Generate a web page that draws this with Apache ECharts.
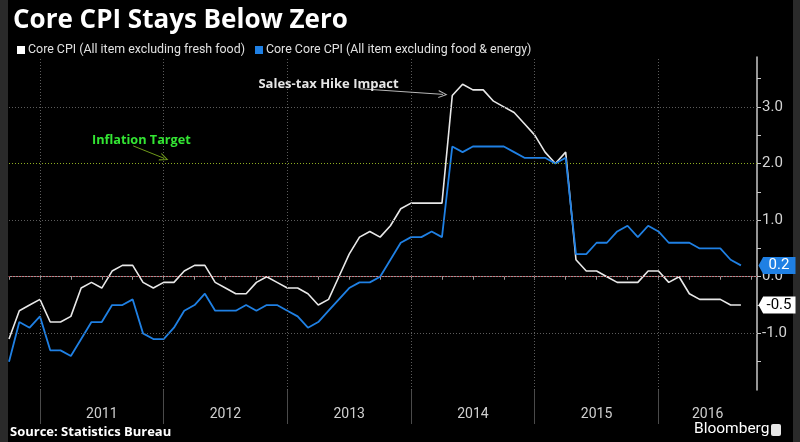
<!DOCTYPE html>
<html><head><meta charset="utf-8">
<script src="https://cdn.jsdelivr.net/npm/echarts@6/dist/echarts.min.js"></script>
<style>html,body{margin:0;padding:0;background:#000}#c{width:800px;height:442px}</style>
</head><body><div id="c"></div>
<script>
// ---------------- data ----------------
const seriesNames = ['Core CPI (All item excluding fresh food)', 'Core Core CPI (All item excluding food & energy)'];
const firstMonth = '2010-09';   // monthly YoY %, Sep 2010 .. Aug 2016
const coreCPI = [
  -1.1, -0.6, -0.5, -0.4,                                       // 2010 Sep-Dec
  -0.8, -0.8, -0.7, -0.2, -0.1, -0.2, 0.1, 0.2, 0.2, -0.1, -0.2, -0.1,   // 2011
  -0.1, 0.1, 0.2, 0.2, -0.1, -0.2, -0.3, -0.3, -0.1, 0.0, -0.1, -0.2,    // 2012
  -0.2, -0.3, -0.5, -0.4, 0.0, 0.4, 0.7, 0.8, 0.7, 0.9, 1.2, 1.3,        // 2013
  1.3, 1.3, 1.3, 3.2, 3.4, 3.3, 3.3, 3.1, 3.0, 2.9, 2.7, 2.5,            // 2014
  2.2, 2.0, 2.2, 0.3, 0.1, 0.1, 0.0, -0.1, -0.1, -0.1, 0.1, 0.1,         // 2015
  -0.1, 0.0, -0.3, -0.4, -0.4, -0.4, -0.5, -0.5                          // 2016 Jan-Aug
];
const coreCoreCPI = [
  -1.5, -0.8, -0.9, -0.7,
  -1.3, -1.3, -1.4, -1.1, -0.8, -0.8, -0.5, -0.5, -0.4, -1.0, -1.1, -1.1,
  -0.9, -0.6, -0.5, -0.3, -0.6, -0.6, -0.6, -0.5, -0.6, -0.5, -0.5, -0.6,
  -0.7, -0.9, -0.8, -0.6, -0.4, -0.2, -0.1, -0.1, 0.0, 0.3, 0.6, 0.7,
  0.7, 0.8, 0.7, 2.3, 2.2, 2.3, 2.3, 2.3, 2.3, 2.2, 2.1, 2.1,
  2.1, 2.0, 2.1, 0.4, 0.4, 0.6, 0.6, 0.8, 0.9, 0.7, 0.9, 0.8,
  0.6, 0.6, 0.6, 0.5, 0.5, 0.5, 0.3, 0.2
];
const years = [2011, 2012, 2013, 2014, 2015, 2016];
const yLabelValues = [-1, 0, 1, 2, 3];
const inflationTarget = 2.0;
const annotations = ['Sales-tax Hike Impact', 'Inflation Target'];

// ---------------- helpers ----------------
const BASE_YEAR = 2010;
const X_MIN = 9, X_MAX = 81.56;     // months since Jan 1 2010
const Y_MIN = -2, Y_MAX = 3.88;
function monthPos(i) {               // points sit at month end
  const [y, m] = firstMonth.split('-').map(Number);
  return (y - BASE_YEAR) * 12 + m + i;
}
const xy = arr => arr.map((v, i) => [monthPos(i), v]);
const yearStart = y => (y - BASE_YEAR) * 12;
const yearMid = y => (Math.max(yearStart(y), X_MIN) + Math.min(yearStart(y) + 12, X_MAX)) / 2;
const quarterTicks = [];
for (let v = Math.ceil(X_MIN / 3) * 3; v <= X_MAX; v += 3) quarterTicks.push(v);
const yTicks = [];
for (let v = Y_MIN + 0.5; v <= Y_MAX; v += 0.5) yTicks.push(+v.toFixed(1));

const FONT = 'Roboto';
const gray = { color: '#5c5c5c', type: [1, 2], width: 1 };
const arrowHead = 'path://M5,0 L10,10 L8.6,10 L5,2.6 L1.4,10 L0,10 Z';
const tagPath = 'path://M0,8 L5,0 L40,0 L40,16 L5,16 Z';

function tag(arr, bg, fg) {
  const last = arr[arr.length - 1];
  return {
    silent: true, animation: false,
    symbol: tagPath, symbolSize: [37, 17], symbolKeepAspect: false,
    symbolOffset: [20, 0],
    itemStyle: { color: bg },
    label: { show: true, position: 'inside', offset: [2, 0], color: fg, fontSize: 15, fontFamily: FONT,
             formatter: () => last.toFixed(1) },
    data: [{ coord: [X_MAX, last] }]
  };
}

const chart = echarts.init(document.getElementById('c'), null, { renderer: 'canvas' });
chart.setOption({
  backgroundColor: '#000',
  animation: false,
  title: {
    text: 'Core CPI Stays Below Zero', left: 8, top: 3,
    textStyle: { color: '#ffffff', fontSize: 26, fontWeight: 'bold', fontFamily: 'Open Sans' }
  },
  legend: {
    data: seriesNames, left: 12, top: 39, icon: 'rect', itemWidth: 8, itemHeight: 8, itemGap: 10,
    textStyle: { color: '#e0e0e0', fontSize: 12.4, fontFamily: FONT, padding: [0, 0, 0, -2] },
    selectedMode: false
  },
  grid: [
    { left: 9, right: 43, top: 57, bottom: 52 },
    { left: 9, right: 43, top: 390, bottom: 18 }
  ],
  xAxis: [
    {
      type: 'value', gridIndex: 0, min: X_MIN, max: X_MAX,
      axisLine: { show: true, lineStyle: { color: '#9a9a9a', width: 1 } },
      axisTick: { show: true, length: 3, customValues: quarterTicks, lineStyle: { color: '#9a9a9a' } },
      axisLabel: {
        show: true, customValues: years.map(yearMid), margin: 17,
        color: '#cfcfcf', fontSize: 14, fontFamily: FONT,
        formatter: v => String(BASE_YEAR + Math.floor(v / 12))
      },
      splitLine: { show: false }
    },
    { type: 'value', gridIndex: 1, min: X_MIN, max: X_MAX, show: false }
  ],
  yAxis: [
    {
      type: 'value', gridIndex: 0, position: 'right', min: Y_MIN, max: Y_MAX,
      axisLine: { show: true, lineStyle: { color: '#c8c8c8', width: 1.5 } },
      axisTick: { show: true, length: 4, customValues: yTicks, lineStyle: { color: '#c8c8c8' } },
      axisLabel: {
        show: true, customValues: yLabelValues, margin: 5,
        color: '#d4d4d4', fontSize: 15, fontFamily: FONT,
        formatter: v => v.toFixed(1)
      },
      splitLine: { show: false }
    },
    { type: 'value', gridIndex: 1, min: 0, max: 1, show: false }
  ],
  series: [
    {
      type: 'line', name: '_grid', data: [], silent: true,
      markLine: {
        silent: true, symbol: 'none', animation: false, label: { show: false },
        data: [
          ...years.map(y => ({ xAxis: yearStart(y), lineStyle: gray })),
          ...yLabelValues.filter(v => v !== 0 && v !== inflationTarget).map(v => ({ yAxis: v, lineStyle: gray })),
          { yAxis: 0, lineStyle: { color: '#b3323c', type: [1, 2], width: 1 } },
          { yAxis: inflationTarget, lineStyle: { color: '#8fae22', type: [1, 2], width: 1 } }
        ]
      }
    },
    {
      type: 'line', name: '_annot', data: [], silent: true,
      markLine: {
        silent: true, animation: false, symbol: ['none', arrowHead], symbolSize: [8, 9],
        label: { show: false },
        data: [
          [{ coord: [43.0, 3.32], lineStyle: { color: '#b8b8b8', width: 1, type: 'solid' } }, { coord: [51.1, 3.22] }],
          [{ coord: [21.05, 2.31], lineStyle: { color: '#6f9a1a', width: 1, type: 'solid' } }, { coord: [24.06, 2.09] }]
        ]
      },
      markPoint: {
        silent: true, animation: false, symbol: 'circle', symbolSize: 1,
        itemStyle: { color: 'rgba(0,0,0,0)' },
        data: [
          { coord: [33.15, 3.39], label: { show: true, position: 'right', distance: 0, formatter: annotations[0],
            color: '#e6e6e6', fontSize: 13, fontWeight: 'bold', fontFamily: 'Open Sans' } },
          { coord: [17.0, 2.405], label: { show: true, position: 'right', distance: 0, formatter: annotations[1],
            color: '#33e633', fontSize: 12.7, fontWeight: 'bold', fontFamily: 'Open Sans' } }
        ]
      }
    },
    {
      type: 'line', name: seriesNames[0], data: xy(coreCPI), showSymbol: false, symbol: 'none',
      lineStyle: { color: '#e8e8e8', width: 1.6 }, itemStyle: { color: '#ffffff' },
      markPoint: tag(coreCPI, '#ffffff', '#000000')
    },
    {
      type: 'line', name: seriesNames[1], data: xy(coreCoreCPI), showSymbol: false, symbol: 'none',
      lineStyle: { color: '#1f80e4', width: 1.8 }, itemStyle: { color: '#1f80e4' },
      markPoint: tag(coreCoreCPI, '#1f80e4', '#ffffff')
    },
    {
      type: 'line', name: '_sep', xAxisIndex: 1, yAxisIndex: 1, data: [], silent: true,
      markLine: {
        silent: true, symbol: 'none', animation: false, label: { show: false },
        data: years.map(y => ({ xAxis: yearStart(y), lineStyle: { color: '#4a4a4a', type: 'solid', width: 1 } }))
      }
    }
  ],
  graphic: [
    { type: 'rect', left: 0, top: 0, shape: { width: 8, height: 442 }, style: { fill: '#2a2a2a' }, silent: true },
    { type: 'rect', right: 0, top: 0, shape: { width: 7, height: 442 }, style: { fill: '#2a2a2a' }, silent: true },
    { type: 'text', left: 10, top: 426, style: { text: 'Source: Statistics Bureau', fill: '#ffffff',
      font: 'bold 13px "Open Sans"' } },
    { type: 'text', left: 694, top: 421, style: { text: 'Bloomberg', fill: '#ffffff', font: '15.5px Roboto' } },
    { type: 'rect', left: 771, top: 424, shape: { width: 10, height: 12, r: 2 }, style: { fill: '#e6e6e6' } }
  ]
});
</script></body></html>
